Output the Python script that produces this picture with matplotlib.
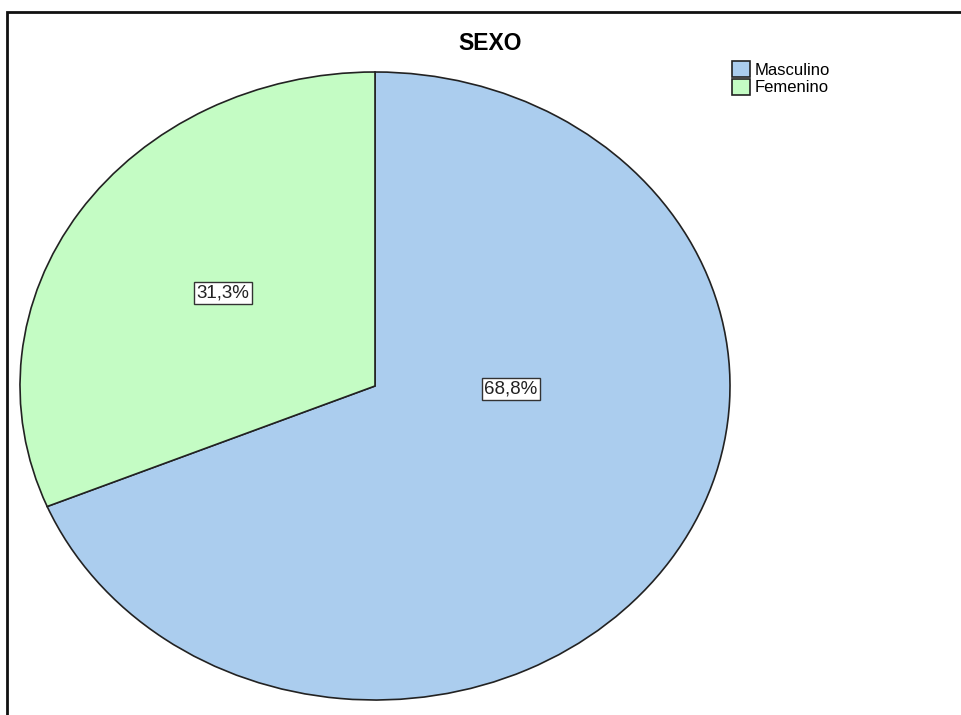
import matplotlib.pyplot as plt
from matplotlib.patches import Rectangle

# category shares (percent) for the SEXO variable
categories = ['Masculino', 'Femenino']
shares = [68.8, 31.3]
labels = ['68,8%', '31,3%']
colors = ['#abcdee', '#c4fcc4']

plt.rcParams['font.family'] = ['Liberation Sans', 'DejaVu Sans']

W, H = 962, 715
fig = plt.figure(figsize=(W / 100, H / 100), dpi=100)

# outer frame (only the left and top edges fall inside the image)
fig.add_artist(Rectangle((7 / W, -0.05), 1.2, 1 - 12 / H + 0.05,
                         transform=fig.transFigure, fill=False,
                         edgecolor='#111111', linewidth=2))

# pie drawn stretched into an ellipse
m = 1.01
cx, cy, rx, ry = 375, 386, 355, 314
ax = fig.add_axes([(cx - rx * m) / W, (H - cy - ry * m) / H,
                   2 * rx * m / W, 2 * ry * m / H])
wedges, _ = ax.pie(shares, colors=colors, startangle=90, counterclock=False,
                   wedgeprops=dict(edgecolor='#222222', linewidth=1.2))
ax.set_xlim(-m, m)
ax.set_ylim(-m, m)
ax.set_aspect('auto')

label_pos = [(0.383, -0.01), (-0.428, 0.296)]
for (x, y), txt in zip(label_pos, labels):
    ax.text(x, y, txt, ha='center', va='center', fontsize=13.5, color='#222222',
            bbox=dict(boxstyle='square,pad=0.14', facecolor='white',
                      edgecolor='#333333', linewidth=1))

fig.text(490 / W, 1 - 44 / H, 'SEXO', ha='center', va='center',
         fontsize=16.5, fontweight='bold')

fig.legend(wedges, categories, loc='upper left',
           bbox_to_anchor=(732 / W, 1 - 61 / H), frameon=False,
           fontsize=12, borderpad=0, borderaxespad=0, labelspacing=0.05,
           handlelength=1.1, handleheight=1.1, handletextpad=0.25)

fig.savefig('out.png', dpi=100)
